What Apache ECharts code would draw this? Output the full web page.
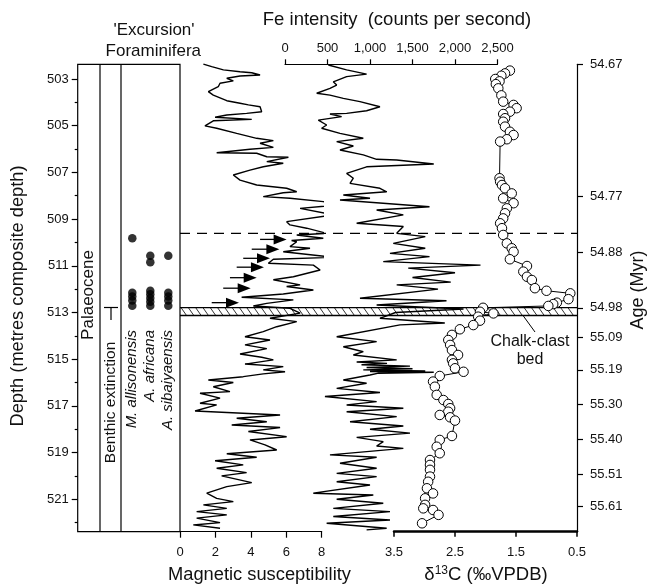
<!DOCTYPE html>
<html><head><meta charset="utf-8">
<script src="https://cdn.jsdelivr.net/npm/echarts@6/dist/echarts.min.js"></script>
<style>html,body{margin:0;padding:0;background:#fff}#c{width:650px;height:584px}</style>
</head><body><div id="c"></div>
<script>
// ---------- data ----------
const depthMajorTicks = [503,505,507,509,511,513,515,517,519,521];
const depthMinorTicks = [504,506,508,510,512,514,516,518,520,522];
const magTicks = [0,2,4,6,8];
const feTicks = [0,500,1000,1500,2000,2500];
const d13cTicks = [3.5,2.5,1.5,0.5];
const ageLabels = ['54.67','54.77','54.88','54.98','55.09','55.19','55.30','55.40','55.51','55.61'];
const ageDepths = [502.372,508.04,510.44,512.80,514.06,515.46,516.95,518.43,519.92,521.29];

// magnetic susceptibility [value, depth]
const magSusc = [[1.32,502.36],[1.79,502.47],[2.45,502.61],[3.39,502.69],[4.05,502.73],[4.52,502.83],[3.39,502.87],[2.64,502.97],[3.01,503.08],[2.26,503.18],[2.16,503.33],[1.6,503.54],[1.51,503.61],[1.88,503.69],[1.98,503.76],[2.64,503.93],[3.39,504.04],[3.86,504.11],[4.52,504.19],[4.61,504.4],[3.76,504.47],[2.64,504.54],[1.98,504.64],[4.05,504.73],[1.88,504.79],[1.41,505.01],[2.07,505.11],[3.2,505.33],[4.33,505.54],[5.27,505.64],[4.52,505.75],[5.27,505.93],[3.95,506.01],[2.07,506.16],[4.33,506.18],[4.9,506.33],[6.12,506.35],[4.9,506.54],[5.83,506.61],[4.7,506.76],[3.95,506.9],[3.01,507.11],[3.39,507.33],[4.33,507.54],[6.02,507.68],[6.59,507.83],[5.83,507.87],[4.7,508.04],[6.21,508.11],[8.09,508.25],[8.85,508.4],[6.78,508.54],[8.66,508.82],[6.02,509.11],[6.21,509.25],[7.15,509.39],[8.28,509.61],[6.59,509.68],[8.09,509.82],[6.3,509.92],[6.59,509.97],[6.21,510.18],[7.34,510.25],[5.83,510.4],[8.66,510.64],[5.27,510.72],[4.99,510.89],[7.53,510.97],[7.91,511.18],[6.4,511.47],[5.27,511.6],[6.78,511.82],[6.02,511.89],[7.53,512.04],[5.83,512.21],[3.48,512.35],[6.4,512.46],[4.9,512.61],[4.14,512.72],[6.21,512.82],[6.78,513.03],[5.08,513.25],[6.59,513.39],[5.46,513.61],[4.7,513.82],[3.67,514.04],[5.08,514.18],[3.67,514.39],[4.9,514.55],[3.39,514.78],[4.61,514.92],[5.27,515.03],[3.67,515.21],[5.83,515.32],[4.7,515.46],[5.93,515.54],[4.7,515.63],[3.57,515.75],[1.6,515.89],[3.01,516.0],[1.88,516.18],[2.82,516.39],[1.13,516.46],[2.26,516.67],[1.13,516.89],[2.07,516.96],[0.85,517.22],[5.65,517.39],[3.2,517.53],[4.9,517.68],[2.92,517.82],[5.65,517.93],[3.86,518.1],[6.02,518.32],[3.95,518.46],[4.8,518.67],[5.46,518.89],[2.64,519.05],[4.33,519.2],[1.98,519.35],[3.57,519.53],[2.07,519.67],[3.76,519.86],[2.35,520.0],[4.05,520.29],[2.64,520.46],[1.51,520.74],[2.07,520.96],[3.01,521.1],[1.32,521.24],[2.64,521.39],[0.94,521.53],[2.64,521.67],[0.94,521.81],[2.26,522.0],[0.75,522.1],[2.26,522.24]];

// Fe intensity [counts per second, depth]
const feIntensity = [[510,502.4],[725,502.61],[960,502.79],[725,502.9],[568,503.12],[608,503.26],[529,503.4],[373,503.61],[529,503.69],[686,503.83],[882,503.97],[1117,504.19],[960,504.36],[725,504.47],[529,504.5],[666,504.61],[392,504.76],[490,504.97],[431,505.11],[647,505.33],[921,505.54],[608,505.68],[804,505.87],[647,506.04],[921,506.25],[1078,506.44],[1314,506.47],[1750,506.64],[960,506.76],[725,507.04],[804,507.25],[765,507.47],[1117,507.68],[1196,507.83],[686,507.97],[1000,508.11],[647,508.18],[1700,508.47],[1078,508.61],[1392,508.82],[843,509.18],[1392,509.32],[1314,509.61],[1650,509.75],[1274,510.04],[1650,510.25],[1235,510.47],[1700,510.61],[1156,510.82],[2300,510.97],[1450,511.1],[2000,511.3],[1500,511.5],[1950,511.7],[1314,511.82],[1800,512.0],[882,512.39],[1900,512.5],[1078,512.68],[2100,512.85],[1300,513.0],[1117,513.25],[1880,513.45],[1353,513.53],[608,514.04],[1078,514.25],[686,514.47],[921,514.68],[804,514.82],[1314,515.03],[843,515.12],[1200,515.18],[900,515.24],[1470,515.3],[960,515.36],[1500,515.41],[921,515.46],[1650,515.5],[1000,515.53],[1750,515.56],[1100,515.6],[1000,515.68],[686,515.89],[960,516.03],[608,516.25],[1117,516.43],[470,516.6],[1078,516.82],[725,516.96],[1392,517.1],[725,517.25],[1314,517.46],[765,517.68],[1392,517.86],[1000,518.0],[1470,518.17],[843,518.35],[1156,518.53],[1078,518.72],[1392,518.82],[529,519.1],[1078,519.2],[647,519.46],[1078,519.67],[608,519.89],[1078,520.03],[608,520.25],[1000,520.39],[333,520.74],[1039,520.82],[608,521.0],[1156,521.17],[568,521.39],[1235,521.53],[568,521.74],[1235,521.89],[490,522.03],[1196,522.24],[960,522.31]];

// delta13C [permil VPDB, depth]
const d13c = [[1.6,502.64],[1.68,502.76],[1.74,502.86],[1.84,503.0],[1.77,503.1],[1.83,503.22],[1.79,503.4],[1.74,503.7],[1.71,503.97],[1.54,504.11],[1.49,504.25],[1.6,504.4],[1.71,504.5],[1.68,504.68],[1.71,504.83],[1.68,505.04],[1.6,505.26],[1.54,505.4],[1.65,505.58],[1.76,505.68],[1.77,507.25],[1.76,507.4],[1.73,507.54],[1.68,507.68],[1.57,507.9],[1.71,508.11],[1.54,508.32],[1.65,508.54],[1.68,508.75],[1.71,508.97],[1.76,509.18],[1.73,509.39],[1.71,509.68],[1.65,510.04],[1.57,510.25],[1.54,510.4],[1.6,510.72],[1.32,511.01],[1.38,511.25],[1.32,511.47],[1.24,511.61],[1.19,511.96],[1.0,512.07],[0.61,512.18],[0.64,512.43],[0.83,512.58],[0.89,512.64],[0.97,512.72],[2.04,512.8],[2.09,512.97],[1.87,513.04],[2.12,513.18],[2.09,513.35],[2.2,513.54],[2.42,513.72],[2.55,513.96],[2.61,514.18],[2.58,514.39],[2.55,514.61],[2.45,514.82],[2.55,515.03],[2.53,515.18],[2.5,515.39],[2.36,515.54],[2.75,515.72],[2.86,515.96],[2.83,516.18],[2.8,516.53],[2.69,516.75],[2.61,516.92],[2.58,517.1],[2.61,517.25],[2.75,517.39],[2.58,517.49],[2.5,517.63],[2.55,518.29],[2.75,518.46],[2.8,518.75],[2.75,519.03],[2.91,519.32],[2.91,519.53],[2.91,519.74],[2.91,520.03],[2.94,520.25],[2.96,520.53],[2.86,520.75],[2.99,520.96],[2.99,521.24],[3.02,521.39],[2.86,521.46],[2.77,521.67],[3.04,522.03]];

// 'Excursion' foraminifera occurrences (depths)
const species = ['M. allisonensis','A. africana','A. sibaiyaensis'];
const mAllisonensis = [509.82,512.15,512.32,512.49,512.71];
const aAfricana = [510.57,510.85,512.07,512.22,512.38,512.54,512.71];
const aSibaiyaensis = [510.57,512.15,512.32,512.49,512.71];

// arrows on magnetic susceptibility: [start, tip, depth]
const arrows = [[4.52,6.02,509.87],[4.05,5.61,510.29],[3.57,5.08,510.68],[3.2,4.74,511.06],[2.82,4.33,511.51],[2.44,3.99,511.96],[1.79,3.33,512.58]];

const dashedDepth = [509.61];
const chalkClastBed = [512.79, 513.13];

// ---------- layout ----------
const DMIN = 502.37, DMAX = 522.39, TOP = 64.3, H = 467.4;
const FONT = '"Liberation Sans", Arial, Helvetica, sans-serif';
const TXT = '#111';

function yAx(grid, extra) {
  return Object.assign({type:'value', gridIndex:grid, min:DMIN, max:DMAX, inverse:true, show:false}, extra || {});
}

const chart = echarts.init(document.getElementById('c'), null, {renderer:'canvas'});

const foramData = [];
[mAllisonensis, aAfricana, aSibaiyaensis].forEach((arr, i) => arr.forEach(d => foramData.push([i+1, d])));

function gText(text, x, y, size, opts) {
  opts = opts || {};
  return {
    type:'text', x:x, y:y, rotation: opts.rot || 0, silent:true,
    style:{text:text, x:0, y:0, fill:TXT,
      font:(opts.italic?'italic ':'') + size + 'px ' + FONT,
      align: opts.align || 'center', textAlign: opts.align || 'center',
      verticalAlign:'middle', textVerticalAlign:'middle'}
  };
}
function gLine(x1,y1,x2,y2,w) {
  return {type:'line', silent:true, shape:{x1,y1,x2,y2}, style:{stroke:'#000', lineWidth:w||1.2}};
}

const option = {
  animation:false,
  backgroundColor:'#fff',
  grid:[
    {left:77.7, top:TOP, width:102.3, height:H, show:true, borderColor:'#000', borderWidth:1.2, backgroundColor:'transparent', outerBoundsMode:'none'},
    {left:180, top:TOP, width:141.7, height:H, outerBoundsMode:'none'},
    {left:285, top:TOP, width:212.5, height:H, outerBoundsMode:'none'},
    {left:394, top:TOP, width:183, height:H, outerBoundsMode:'none'},
    {left:180, top:TOP, width:397, height:H, outerBoundsMode:'none'}
  ],
  xAxis:[
    {type:'value', gridIndex:0, min:-2.033, max:3.65, show:false},
    {type:'value', gridIndex:1, min:0, max:8, interval:2, position:'bottom',
      axisLine:{show:true, onZero:false, lineStyle:{color:'#000', width:1.2}},
      axisTick:{show:true, length:6, lineStyle:{color:'#000', width:1.2}},
      axisLabel:{margin:14, fontSize:13, color:TXT, fontFamily:FONT},
      splitLine:{show:false}},
    {type:'value', gridIndex:2, min:0, max:2500, interval:500, position:'top',
      axisLine:{show:true, onZero:false, lineStyle:{color:'#000', width:1.2}},
      axisTick:{show:true, length:5, lineStyle:{color:'#000', width:1.2}},
      axisLabel:{margin:9, fontSize:13, color:TXT, fontFamily:FONT, formatter:v => v.toLocaleString('en-US')},
      splitLine:{show:false}},
    {type:'value', gridIndex:3, min:0.5, max:3.5, interval:1, inverse:true, position:'bottom',
      axisLine:{show:true, onZero:false, lineStyle:{color:'#000', width:2.5}},
      axisTick:{show:true, length:5, lineStyle:{color:'#000', width:1.5}},
      axisLabel:{margin:14, fontSize:13, color:TXT, fontFamily:FONT, formatter:v => v.toFixed(1)},
      splitLine:{show:false}},
    {type:'value', gridIndex:4, min:0, max:1, show:false}
  ],
  yAxis:[
    yAx(0, {show:true, position:'left', axisLine:{show:false, onZero:false},
      axisTick:{show:true, length:6, customValues:depthMajorTicks, lineStyle:{color:'#000', width:1.2}},
      axisLabel:{show:true, margin:9, fontSize:13, color:TXT, fontFamily:FONT, customValues:depthMajorTicks},
      splitLine:{show:false}}),
    yAx(0, {show:true, position:'left', axisLine:{show:false, onZero:false},
      axisTick:{show:true, length:3, customValues:depthMinorTicks, lineStyle:{color:'#000', width:1.2}},
      axisLabel:{show:false}, splitLine:{show:false}}),
    yAx(1),
    yAx(2),
    yAx(3, {show:true, position:'right',
      axisLine:{show:true, onZero:false, lineStyle:{color:'#000', width:1.2}},
      axisTick:{show:true, length:6, customValues:ageDepths, lineStyle:{color:'#000', width:1.2}},
      axisLabel:{show:true, margin:13, fontSize:13, color:TXT, fontFamily:FONT, customValues:ageDepths,
        formatter:v => { let b=0; for (let i=1;i<ageDepths.length;i++) if (Math.abs(ageDepths[i]-v) < Math.abs(ageDepths[b]-v)) b=i; return ageLabels[b]; }},
      splitLine:{show:false}}),
    yAx(4)
  ],
  series:[
    {type:'custom', xAxisIndex:4, yAxisIndex:5, clip:false, silent:true, z:1,
      data:[chalkClastBed], encode:{y:[0,1]},
      renderItem:(params, api) => {
        const a = api.coord([0, api.value(0)]), b = api.coord([1, api.value(1)]);
        const top=a[1], bot=b[1], l=a[0], r=b[0], h=bot-top;
        const ch=[];
        for (let x=l+1; x+h*0.7<=r; x+=7.3) ch.push({type:'line', shape:{x1:x,y1:top,x2:x+h*0.7,y2:bot}, style:{stroke:'#333', lineWidth:1}});
        ch.push({type:'line', shape:{x1:l,y1:top,x2:r,y2:top}, style:{stroke:'#000', lineWidth:1.3}});
        ch.push({type:'line', shape:{x1:l,y1:bot,x2:r,y2:bot}, style:{stroke:'#000', lineWidth:1.3}});
        return {type:'group', children:ch};
      }},
    {type:'custom', xAxisIndex:4, yAxisIndex:5, clip:false, silent:true, z:1,
      data:dashedDepth.map(d=>[d]), encode:{y:0},
      renderItem:(params, api) => {
        const a = api.coord([0, api.value(0)]), b = api.coord([1, api.value(0)]);
        return {type:'line', shape:{x1:a[0],y1:a[1],x2:b[0],y2:b[1]}, style:{stroke:'#000', lineWidth:1.2, lineDash:[10,7]}};
      }},
    {type:'line', name:'Magnetic susceptibility', xAxisIndex:1, yAxisIndex:2, data:magSusc, clip:false,
      symbol:'none', lineStyle:{color:'#000', width:1.4}, z:3},
    {type:'line', name:'Fe intensity', xAxisIndex:2, yAxisIndex:3, data:feIntensity, clip:false,
      symbol:'none', lineStyle:{color:'#000', width:1.4}, z:3},
    {type:'line', name:'d13C', xAxisIndex:3, yAxisIndex:4, data:d13c, clip:false,
      symbol:'circle', symbolSize:9.5, showAllSymbol:true,
      itemStyle:{color:'#fff', borderColor:'#000', borderWidth:1},
      lineStyle:{color:'#000', width:1}, z:4},
    {type:'scatter', name:'foraminifera', xAxisIndex:0, yAxisIndex:0, data:foramData,
      symbol:'circle', symbolSize:8.5, itemStyle:{color:'#000'}, z:4},
    {type:'custom', name:'arrows', xAxisIndex:1, yAxisIndex:2, clip:false, silent:true, z:5,
      data:arrows, encode:{x:[0,1], y:2},
      renderItem:(params, api) => {
        const a = api.coord([api.value(0), api.value(2)]), b = api.coord([api.value(1), api.value(2)]);
        const L=13, hw=5;
        return {type:'group', children:[
          {type:'line', shape:{x1:a[0],y1:a[1],x2:b[0]-L+2,y2:b[1]}, style:{stroke:'#000', lineWidth:1.3}},
          {type:'polygon', shape:{points:[[b[0],b[1]],[b[0]-L,b[1]-hw],[b[0]-L,b[1]+hw]]}, style:{fill:'#000'}}
        ]};
      }}
  ],
  graphic:[
    gLine(100, TOP, 100, TOP+H),
    gLine(121, TOP, 121, TOP+H),
    gLine(104, 307.5, 118, 307.5),
    gLine(111, 307.5, 111, 320),
    gLine(523, 315.5, 535, 332, 1),
    gText("'Excursion'", 154, 30, 17),
    gText('Foraminifera', 153.3, 51.7, 17),
    gText('Fe intensity  (counts per second)', 397, 20, 18.5),
    gText('Magnetic susceptibility', 259.5, 575, 18.3),
    gText('Depth (metres composite depth)', 18, 296, 18.3, {rot:Math.PI/2}),
    gText('Age (Myr)', 638, 290, 18, {rot:Math.PI/2}),
    gText('Palaeocene', 88.5, 295, 17, {rot:Math.PI/2}),
    gText('Benthic extinction', 110.7, 341.7, 15.5, {rot:Math.PI/2, align:'right'}),
    gText(species[0], 132.3, 330, 15, {rot:Math.PI/2, align:'right', italic:true}),
    gText(species[1], 150, 330, 15, {rot:Math.PI/2, align:'right', italic:true}),
    gText(species[2], 168.3, 330, 15, {rot:Math.PI/2, align:'right', italic:true}),
    gText('Chalk-clast', 530, 341.7, 16),
    gText('bed', 530, 360, 16),
    {type:'text', x:486, y:575, silent:true,
      style:{text:'{a|δ}{s|13}{a|C (‰VPDB)}', x:0, y:0, align:'center', textAlign:'center', verticalAlign:'middle', textVerticalAlign:'middle',
        rich:{a:{fontSize:18.5, fontFamily:FONT, fill:TXT, color:TXT}, s:{fontSize:12, fontFamily:FONT, fill:TXT, color:TXT, padding:[0,0,9,0]}}}}
  ]
};
chart.setOption(option);
</script>
</body></html>
